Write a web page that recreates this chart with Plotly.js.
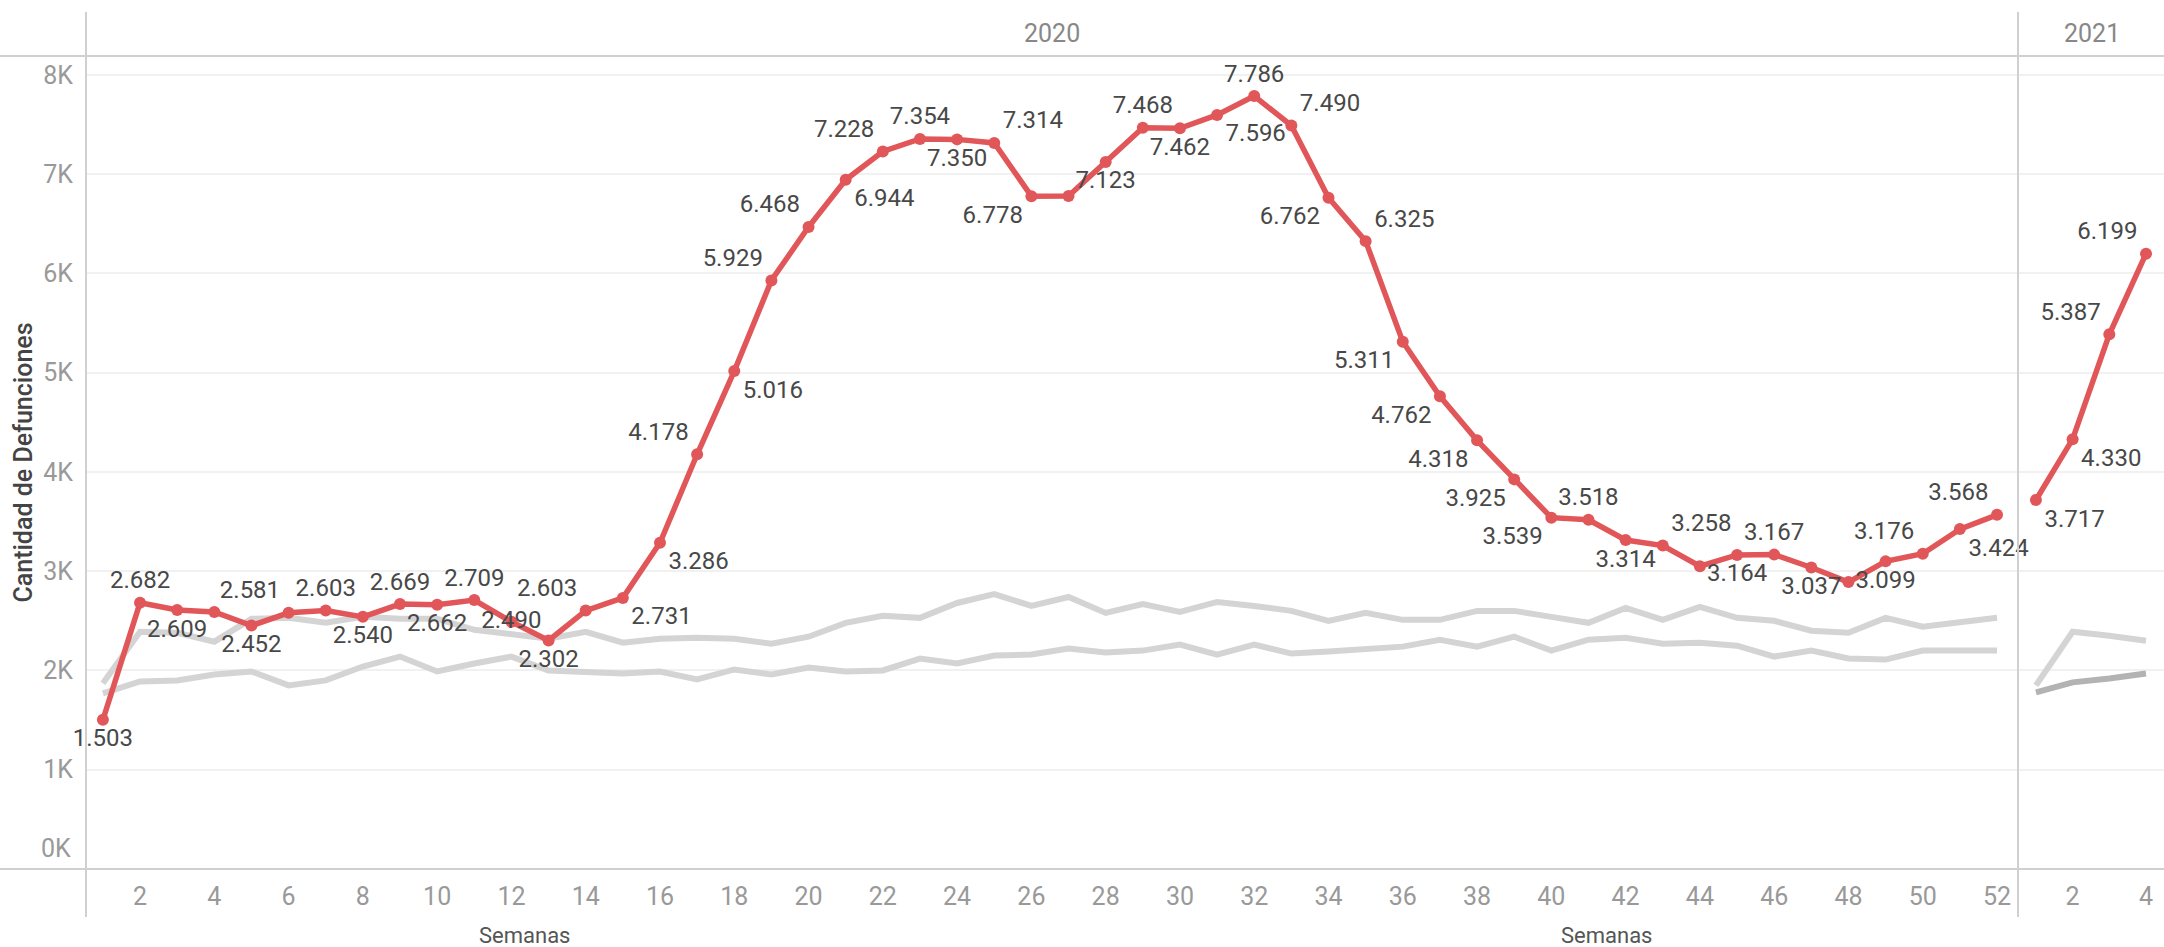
<!DOCTYPE html>
<html>
<head>
<meta charset="utf-8">
<script src="https://cdn.plot.ly/plotly-3.0.1.min.js"></script>
<style>html,body{margin:0;padding:0;background:#fff;}#chart{width:2164px;height:947px;}</style>
</head>
<body>
<div id="chart"></div>
<script>
// ---------- data ----------
const weeks2020 = [1,2,3,4,5,6,7,8,9,10,11,12,13,14,15,16,17,18,19,20,21,22,23,24,25,26,27,28,29,30,31,32,33,34,35,36,37,38,39,40,41,42,43,44,45,46,47,48,49,50,51,52];
const weeks2021 = [1,2,3,4];

const deaths2020 = [1503,2682,2609,2590,2452,2581,2603,2540,2669,2662,2709,2490,2302,2603,2731,3286,4178,5016,5929,6468,6944,7228,7354,7350,7314,6778,6780,7123,7468,7462,7596,7786,7490,6762,6325,5311,4762,4318,3925,3539,3518,3314,3258,3050,3164,3167,3037,2890,3099,3176,3424,3568];
const deaths2021 = [3717,4330,5387,6199];

const refUpper2020 = [1870,2390,2380,2290,2520,2530,2480,2540,2520,2520,2410,2370,2320,2390,2280,2320,2330,2320,2270,2340,2480,2550,2530,2680,2770,2650,2740,2580,2670,2590,2690,2650,2600,2500,2580,2510,2510,2600,2600,2540,2480,2630,2510,2640,2530,2500,2400,2380,2530,2440,2490,2530];
const refLower2020 = [1770,1890,1900,1960,1990,1850,1900,2040,2140,1990,2070,2140,2000,1980,1970,1990,1910,2010,1960,2030,1990,2000,2120,2070,2150,2160,2220,2180,2200,2260,2160,2260,2170,2190,2210,2240,2310,2240,2340,2200,2310,2330,2270,2280,2250,2140,2200,2120,2110,2200,2200,2200];
const refUpper2021 = [1850,2390,2350,2300];
const refLower2021 = [1780,1880,1920,1970];

const unlabeledWeeks2020 = [4,27,44,48];

const xTicks2020 = [2,4,6,8,10,12,14,16,18,20,22,24,26,28,30,32,34,36,38,40,42,44,46,48,50,52];
const xTicks2021 = [2,4];
const yTickVals = [0,1000,2000,3000,4000,5000,6000,7000,8000];
const yTickText = ['','1K','2K','3K','4K','5K','6K','7K','8K'];

// ---------- styles (label placement) ----------
const labelPos2020 = ['bottom center','top center','bottom center','top center','bottom center','top left','top center','bottom center','top center','bottom center',
 'top center','middle center','bottom center','top left','bottom right','bottom right','top left','bottom right','top left','top left',
 'bottom right','top left','top center','bottom center','top right','bottom left','top center','bottom center','top center','bottom center',
 'bottom right','top center','top right','bottom left','top right','bottom left','bottom left','bottom left','bottom left','bottom left',
 'top center','bottom center','top right','top center','bottom center','top center','bottom center','top center','bottom center','top left',
 'bottom right','top left'];
const labelPos2021 = ['bottom right','bottom right','top left','top left'];

const FONT = 'Roboto, "Liberation Sans", Arial, sans-serif';
const RED = '#e15759';
const GREY = '#d4d4d4';
const GREY_DARK = '#b3b3b3';
const fmt = v => v.toLocaleString('de-DE');

const text2020 = deaths2020.map((v,i) => unlabeledWeeks2020.includes(weeks2020[i]) ? '' : fmt(v));
const text2021 = deaths2021.map(fmt);

const greyLine = (x, y, color, xa) => ({
  x, y, type:'scatter', mode:'lines', xaxis:xa, yaxis:'y',
  line:{color, width:6}, hoverinfo:'skip', showlegend:false
});
const redLine = (x, y, text, pos, xa) => ({
  x, y, type:'scatter', mode:'lines+markers+text', xaxis:xa, yaxis:'y',
  line:{color:RED, width:5.5}, marker:{color:RED, size:12},
  text, textposition:pos, cliponaxis:false,
  textfont:{family:FONT, size:24, color:'#484848'}, showlegend:false
});

const traces = [
  greyLine(weeks2020, refUpper2020, GREY, 'x'),
  greyLine(weeks2020, refLower2020, GREY, 'x'),
  redLine(weeks2020, deaths2020, text2020, labelPos2020, 'x'),
  greyLine(weeks2021, refUpper2021, GREY, 'x2'),
  greyLine(weeks2021, refLower2021, GREY_DARK, 'x2'),
  redLine(weeks2021, deaths2021, text2021, labelPos2021, 'x2')
];

const DIV = 0.92974;
const axisLine = '#d0d0d0';
const tickFont = {family:FONT, size:25, color:'#999999'};

const layout = {
  width:2164, height:947,
  margin:{l:86, r:0, t:56, b:78},
  paper_bgcolor:'#ffffff', plot_bgcolor:'#ffffff',
  separators:',.',
  font:{family:FONT},
  showlegend:false,
  xaxis:{domain:[0, DIV], range:[0.545, 52.565], tickvals:xTicks2020, ticktext:xTicks2020.map(String),
    showgrid:false, zeroline:false, showline:false, ticks:'', tickfont:tickFont, ticklabelstandoff:10, fixedrange:true},
  xaxis2:{domain:[DIV+0.0005, 1], anchor:'y', range:[0.54, 4.49], tickvals:xTicks2021, ticktext:xTicks2021.map(String),
    showgrid:false, zeroline:false, showline:false, ticks:'', tickfont:tickFont, ticklabelstandoff:10, fixedrange:true},
  yaxis:{range:[0, 8190], tickvals:yTickVals, ticktext:yTickText, showgrid:true, gridcolor:'#f1f1f1', gridwidth:2,
    zeroline:false, showline:false, ticks:'', tickfont:tickFont, ticklabelstandoff:12,
    title:{text:'Cantidad de Defunciones', font:{family:FONT, size:25, color:'#444444', weight:500}, standoff:3}},
  shapes:[
    {type:'line', xref:'paper', yref:'paper', x0:-0.0414, x1:1, y0:1, y1:1, line:{color:axisLine, width:2}},
    {type:'line', xref:'paper', yref:'paper', x0:-0.0414, x1:1, y0:0, y1:0, line:{color:axisLine, width:2}},
    {type:'line', xref:'paper', yref:'paper', x0:0, x1:0, y0:-0.059, y1:1.054, line:{color:axisLine, width:2}},
    {type:'line', xref:'paper', yref:'paper', x0:DIV, x1:DIV, y0:-0.059, y1:1.054, line:{color:axisLine, width:2}}
  ],
  annotations:[
    {text:'0K', xref:'paper', x:0, xanchor:'right', xshift:-13, yref:'y', y:0, yanchor:'bottom', yshift:4, showarrow:false, font:tickFont},
    {text:'2020', xref:'x domain', x:0.5, xanchor:'center', yref:'paper', y:1, yanchor:'middle', yshift:23, showarrow:false, font:{family:FONT, size:25, color:'#888888'}},
    {text:'2021', xref:'x2 domain', x:0.5, xanchor:'center', yref:'paper', y:1, yanchor:'middle', yshift:23, showarrow:false, font:{family:FONT, size:25, color:'#888888'}},
    {text:'Semanas', xref:'paper', x:0.2108, xanchor:'center', yref:'paper', y:0, yanchor:'middle', yshift:-66, showarrow:false, font:{family:FONT, size:22, color:'#555555'}},
    {text:'Semanas', xref:'paper', x:0.7315, xanchor:'center', yref:'paper', y:0, yanchor:'middle', yshift:-66, showarrow:false, font:{family:FONT, size:22, color:'#555555'}}
  ]
};

Plotly.newPlot('chart', traces, layout, {displayModeBar:false, staticPlot:true});
</script>
</body>
</html>
